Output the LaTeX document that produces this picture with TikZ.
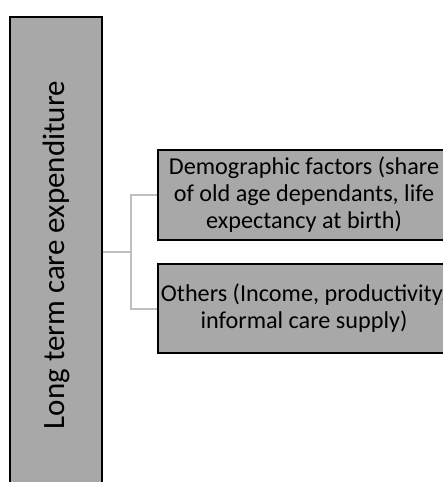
\documentclass[tikz,border=0pt]{standalone}
\usepackage{fontspec}
\setmainfont{Carlito}
\usepackage{tikz}
\tikzstyle{conn} = [draw=black!25, line width=2pt]
\tikzstyle{greyRec} = [rectangle, draw=black, line width=2.6pt, fill=black!34, text centered, align=center, inner sep=0pt]

\begin{document}
\begin{tikzpicture}[x=1pt, y=-1pt]
		\useasboundingbox (0,0) rectangle (443,482);
		\clip (0,0) rectangle (443,482);
		\node (ltc) [greyRec, rotate=90, minimum width=476pt, minimum height=92pt, font=\fontsize{31}{36}\selectfont] at (56,255) {Long term care expenditure};
		\node (demo) [greyRec, minimum width=292pt, minimum height=90pt, font=\fontsize{24.2}{27}\selectfont] at (304,195) {Demographic factors (share\\of old age dependants, life\\expectancy at birth)};
		\node (others) [greyRec, minimum width=292pt, minimum height=89pt, font=\fontsize{24.2}{27}\selectfont] at (304,308.5) {Others (Income, productivity,\\informal care supply)};
		\coordinate (hub) at (131,252);
		\draw [conn] (hub -| ltc.south) -- (hub);
		\draw [conn] (demo.west) -| (hub) |- (others.west);
	\end{tikzpicture}
\end{document}
